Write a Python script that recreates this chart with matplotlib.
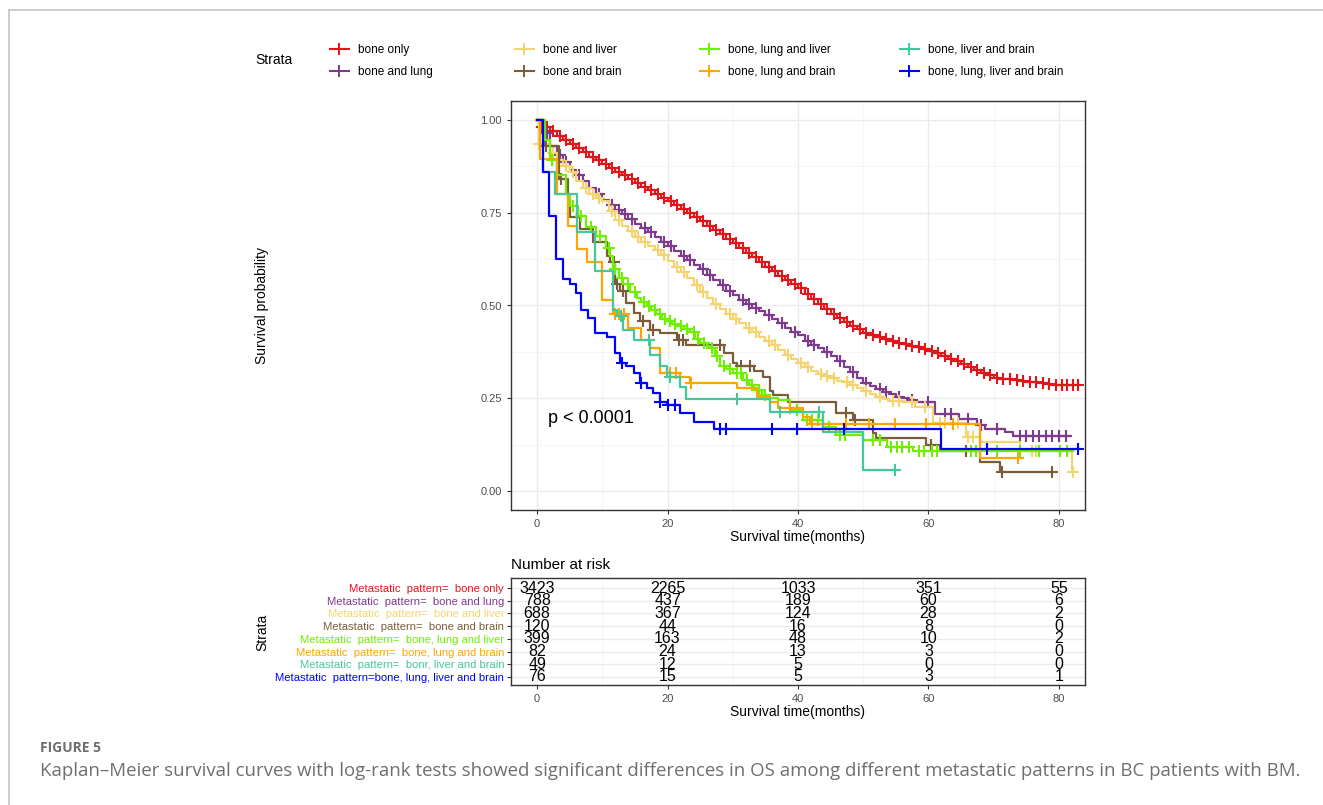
import numpy as np
import matplotlib
matplotlib.use("Agg")
import matplotlib.pyplot as plt
from matplotlib.lines import Line2D

plt.rcParams['font.family'] = ['Liberation Sans', 'DejaVu Sans']

W, H = 1323, 805

# ---- data ----
strata = ["bone only", "bone and lung", "bone and liver", "bone and brain",
          "bone, lung and liver", "bone, lung and brain", "bone, liver and brain",
          "bone, lung, liver and brain"]
row_labels = ["Metastatic  pattern=  bone only",
              "Metastatic  pattern=  bone and lung",
              "Metastatic  pattern=  bone and liver",
              "Metastatic  pattern=  bone and brain",
              "Metastatic  pattern=  bone, lung and liver",
              "Metastatic  pattern=  bone, lung and brain",
              "Metastatic  pattern=  bonr, liver and brain",
              "Metastatic  pattern=bone, lung, liver and brain"]
colors = ["#E0161B", "#7E3A8C", "#F3D470", "#7A5C3A",
          "#70F000", "#FFA500", "#45C79C", "#0000FF"]

risk_times = [0, 20, 40, 60, 80]
risk_counts = [[3423, 2265, 1033, 351, 55],
               [788, 437, 189, 60, 6],
               [688, 367, 124, 28, 2],
               [120, 44, 16, 8, 0],
               [399, 163, 48, 10, 2],
               [82, 24, 13, 3, 0],
               [49, 12, 5, 0, 0],
               [76, 15, 5, 3, 1]]

# step curves: time, survival after step, last follow-up time, censor times
t_red = [0, 0.5, 2, 3, 4, 5, 6, 7, 8, 9, 10, 11, 12, 13, 14, 15, 16, 17, 18, 19, 20,
         21, 22, 23, 24, 25, 26, 27, 28, 29, 30, 31, 32, 33, 34, 35, 36, 37, 38, 39, 40,
         41, 42, 43, 44, 45, 46, 47, 48, 49, 50, 51, 52, 53, 54, 55, 56, 57, 58, 59, 60,
         61, 62, 63, 64, 65, 66, 67, 68, 69, 70, 71, 72, 73, 74, 75, 76, 77, 78, 79, 80]
s_red = [1.0, 0.980, 0.968, 0.956, 0.945, 0.935, 0.923, 0.912, 0.900, 0.890, 0.880,
         0.870, 0.860, 0.850, 0.840, 0.830, 0.820, 0.810, 0.800, 0.790, 0.780,
         0.770, 0.759, 0.748, 0.737, 0.726, 0.715, 0.704, 0.692, 0.680, 0.668,
         0.655, 0.642, 0.630, 0.617, 0.604, 0.592, 0.580, 0.568, 0.557, 0.546,
         0.532, 0.518, 0.504, 0.490, 0.476, 0.466, 0.456, 0.446, 0.436, 0.427,
         0.421, 0.415, 0.410, 0.405, 0.400, 0.396, 0.392, 0.388, 0.384, 0.378,
         0.371, 0.364, 0.357, 0.350, 0.343, 0.335, 0.327, 0.319, 0.312, 0.306,
         0.303, 0.301, 0.299, 0.297, 0.295, 0.293, 0.291, 0.289, 0.287, 0.285]
end_red = 83.0
c_red = [0.8, 1.5, 2.5, 3.5, 4.5, 5.5, 6.5, 7.5, 8.5, 9.5, 10.5, 11.5, 12.5, 13.5,
         14.5, 15.5, 16.5, 17.5, 18.5, 19.5, 20.5, 21.5, 22.5, 23.5, 24.5, 25.5, 26.5,
         27.5, 28.5, 29.5, 30.5, 31.5, 32.5, 33.5, 34.5, 35.5, 36.5, 37.5, 38.5, 39.5,
         40.5, 41.5, 42.5, 43.5, 44.5, 45.5, 46.5, 47.5, 48.5, 49.5, 50.5, 51.5, 52.5,
         53.5, 54.5, 55.5, 56.5, 57.5, 58.5, 59.5, 60.5, 61.5, 62.5, 63.5, 64.5, 65.5,
         66.5, 67.5, 68.5, 69.5, 70.5, 71.5, 72.5, 73.5, 74.5, 75.5, 76.5, 77.5, 78.5,
         79.5, 80.5, 81.3, 82.1, 83.0]

t_purple = [0, 1, 2, 3, 4, 5, 6, 7, 8, 9, 10, 11, 12, 13, 14, 15, 16, 17, 18, 19, 20,
            21, 22, 23, 24, 25, 26, 27, 28, 29, 30, 31, 32, 33, 34, 35, 36, 37, 38, 39,
            40, 41, 42, 43, 44, 45, 46, 47, 48, 49, 50, 51, 52, 53, 54, 55, 56, 57, 58,
            61, 64.7, 67.4, 68.6, 71.7, 73]
s_purple = [1.0, 0.965, 0.93, 0.905, 0.885, 0.865, 0.85, 0.835, 0.815, 0.80, 0.785,
            0.77, 0.758, 0.746, 0.733, 0.72, 0.708, 0.697, 0.685, 0.672, 0.66,
            0.647, 0.634, 0.622, 0.61, 0.598, 0.583, 0.568, 0.555, 0.54, 0.527,
            0.516, 0.505, 0.494, 0.484, 0.474, 0.465, 0.452, 0.44, 0.43, 0.42,
            0.405, 0.395, 0.385, 0.375, 0.365, 0.35, 0.335, 0.32, 0.305, 0.292,
            0.283, 0.275, 0.268, 0.261, 0.255, 0.25, 0.245, 0.24,
            0.208, 0.195, 0.178, 0.168, 0.16, 0.149]
end_purple = 81.6
c_purple = [1.5, 3.5, 4.5, 6.5, 9.5, 11.5, 12.5, 13.5, 14.5, 16.5, 17.5, 19.5, 20.5,
            22.5, 23.5, 25.5, 26.5, 28.5, 29.5, 31.5, 32.5, 33.5, 35.5, 37.5, 39.5,
            41.5, 42.5, 44.5, 46.5, 48.5, 50.5, 52.5, 53.5, 55.5, 57.5, 60, 62.5, 63.5,
            66, 68, 70.5, 74, 75, 76, 77, 78, 79, 80, 81.1]

t_yellow = [0, 0.3, 2, 3, 4, 5, 6, 7, 8, 9, 10, 11, 12, 13, 14, 15, 16, 17, 18, 19, 20,
            21, 22, 23, 24, 25, 26, 27, 28, 29, 30, 31, 32, 33, 34, 35, 36, 37, 38, 39,
            40, 41, 42, 43, 44, 45, 46, 47, 48, 49, 50, 51, 52, 53, 54, 56, 58,
            60.7, 65.8, 67.9, 74, 82]
s_yellow = [1.0, 0.935, 0.91, 0.89, 0.875, 0.86, 0.835, 0.815, 0.80, 0.79, 0.78,
            0.755, 0.73, 0.715, 0.70, 0.685, 0.67, 0.66, 0.65, 0.635, 0.62,
            0.603, 0.59, 0.573, 0.555, 0.537, 0.52, 0.505, 0.49, 0.477, 0.465,
            0.452, 0.44, 0.428, 0.415, 0.405, 0.395, 0.38, 0.368, 0.357, 0.345,
            0.335, 0.325, 0.317, 0.31, 0.305, 0.298, 0.293, 0.285, 0.278, 0.27,
            0.262, 0.255, 0.248, 0.244, 0.241, 0.228,
            0.185, 0.147, 0.132, 0.11, 0.052]
end_yellow = 82.1
c_yellow = [0.3, 2.5, 4.5, 5.5, 7.5, 8.5, 9.5, 11.5, 12.5, 14.5, 15.5, 16.5, 18.5,
            19.5, 21.5, 22.5, 24.5, 25.5, 27.5, 29.5, 30.5, 32.5, 33.5, 35.5, 36.5,
            38.5, 40.5, 41.5, 43.5, 44.5, 45.5, 47.5, 48.5, 50.5, 52.5, 54.5, 55.5,
            57.5, 59.5, 61.8, 62.5, 64.5, 66.1, 66.8, 75.8, 76.5, 82.1]

t_brown = [0, 1.2, 3.3, 4.8, 5.0, 6.6, 8.6, 10.7, 11.2, 12, 12.7, 13.7, 14.8, 15.8,
           17.3, 18.9, 21.4, 22.9, 28.6, 30.1, 30.6, 33.2, 34.7, 35.7, 36.2, 38.5,
           45.9, 48.5, 51.5, 52, 59.7, 61.8, 67.9, 71]
s_brown = [1.0, 0.93, 0.84, 0.786, 0.737, 0.705, 0.67, 0.633, 0.616, 0.557, 0.539,
           0.508, 0.48, 0.457, 0.435, 0.427, 0.408, 0.395, 0.373, 0.346, 0.336,
           0.325, 0.309, 0.27, 0.258, 0.241, 0.21, 0.192, 0.157, 0.143, 0.124,
           0.11, 0.08, 0.052]
end_brown = 78.9
c_brown = [1.4, 3.6, 11.8, 12.3, 13.2, 16.2, 17.8, 21.8, 22.4, 28.0, 31.2, 32.6,
           47.3, 48.8, 60.4, 65.8, 71.2, 78.9]

t_lime = [0, 1.2, 2, 3, 4.5, 5, 6.2, 7.5, 9, 10.5, 11.2, 11.7, 12.5, 13.2, 14.3, 15.3,
          16, 16.8, 17.5, 18.3, 19.2, 19.9, 20.7, 21.4, 22.5, 23.4, 24.2, 25, 26, 26.5,
          27.3, 28, 29, 30.1, 31.6, 32.5, 33.2, 34.5, 35.7, 37, 38.8, 40.8, 43.9, 45.9,
          50, 53.6, 57.7]
s_lime = [1.0, 0.944, 0.89, 0.85, 0.80, 0.768, 0.741, 0.71, 0.687, 0.655, 0.633,
          0.597, 0.575, 0.557, 0.535, 0.521, 0.51, 0.498, 0.487, 0.476, 0.465, 0.457,
          0.45, 0.444, 0.437, 0.43, 0.41, 0.399, 0.39, 0.386, 0.363, 0.336, 0.328,
          0.319, 0.30, 0.285, 0.273, 0.26, 0.251, 0.245, 0.219, 0.192, 0.174, 0.151,
          0.138, 0.12, 0.109]
end_lime = 82.2
c_lime = [2.3, 5.5, 6.8, 8.2, 9.7, 11.0, 12.0, 13.0, 14.0, 15.0, 16.4, 17.2, 18.0,
          18.8, 19.6, 20.4, 21.1, 22.0, 23.0, 24.0, 24.6, 25.6, 26.8, 27.6, 28.6, 29.5,
          30.6, 31.2, 32.2, 33.0, 34.0, 35.0, 39.8, 41.4, 42.2, 43.0, 44.8, 46.4, 47.2,
          51.5, 52.5, 54.2, 55.2, 56.0, 57.0, 58.5, 59.3, 60.5, 61.3, 66.5, 67.3, 70.5,
          74.0, 77.0, 80.2, 81.2]

t_orange = [0, 0.5, 3.0, 4.8, 6.1, 7.6, 9.9, 11.7, 14, 16, 17.3, 18.9, 21.9, 23.4,
            30.6, 33.7, 35.7, 37, 40.8, 41.8, 67.9]
s_orange = [1.0, 0.895, 0.80, 0.714, 0.651, 0.616, 0.516, 0.476, 0.44, 0.408, 0.386,
            0.319, 0.309, 0.292, 0.278, 0.255, 0.241, 0.224, 0.201, 0.18, 0.089]
end_orange = 74.3
c_orange = [11.9, 12.6, 13.3, 20.3, 21.3, 23.6, 38.8, 42.2, 47.4, 50.9, 54.9, 59.7,
            63.8, 73.8]

t_aqua = [0, 0.9, 2.8, 6.1, 8.9, 11.7, 12.2, 13.2, 14.8, 17.3, 18.9, 19.9, 21.9,
          22.9, 35.7, 43.9, 50]
s_aqua = [1.0, 0.86, 0.80, 0.697, 0.593, 0.489, 0.471, 0.435, 0.408, 0.368, 0.336,
          0.309, 0.282, 0.249, 0.214, 0.16, 0.057]
end_aqua = 54.9
c_aqua = [12.9, 17.1, 20.3, 30.6, 37.3, 43.2, 54.9]

t_blue = [0, 0.9, 1.9, 2.9, 3.9, 5.0, 6.0, 6.8, 7.8, 8.9, 10.7, 12.0, 12.7, 13.7,
          14.8, 15.8, 16.8, 17.8, 18.9, 19.9, 21.9, 24, 27.1, 61.9]
s_blue = [1.0, 0.86, 0.741, 0.624, 0.57, 0.557, 0.534, 0.489, 0.467, 0.427, 0.414,
          0.373, 0.346, 0.336, 0.319, 0.292, 0.278, 0.265, 0.241, 0.232, 0.21, 0.187,
          0.167, 0.113]
end_blue = 83.2
c_blue = [13.0, 16.0, 18.9, 20.1, 21.2, 28.1, 28.9, 36.0, 39.8, 47.0, 68.9, 83.0]

curves = [(t_red, s_red, end_red, c_red),
          (t_purple, s_purple, end_purple, c_purple),
          (t_yellow, s_yellow, end_yellow, c_yellow),
          (t_brown, s_brown, end_brown, c_brown),
          (t_lime, s_lime, end_lime, c_lime),
          (t_orange, s_orange, end_orange, c_orange),
          (t_aqua, s_aqua, end_aqua, c_aqua),
          (t_blue, s_blue, end_blue, c_blue)]


def px_box(left, top, right, bottom):
    return [left / W, 1 - bottom / H, (right - left) / W, (bottom - top) / H]


fig = plt.figure(figsize=(W / 100, H / 100), dpi=100)

# page frame lines
fig.add_artist(Line2D([9 / W, 9 / W], [0, 1 - 10 / H], color="#C4C4C4", lw=1.2))
fig.add_artist(Line2D([9 / W, 1], [1 - 10 / H, 1 - 10 / H], color="#C4C4C4", lw=1.2))

grid_major = "#EBEBEB"
grid_minor = "#F4F4F4"
border = "#333333"
tick_col = "#4D4D4D"

# ---- survival curves ----
ax = fig.add_axes(px_box(511, 101, 1085, 510))
for (t, s, end, cens), col in zip(curves, colors):
    t = np.asarray(t, float)
    s = np.asarray(s, float)
    ax.step(np.append(t, end), np.append(s, s[-1]), where="post", color=col,
            lw=1.6, zorder=3)
    idx = np.searchsorted(t, cens, side="right") - 1
    ax.plot(cens, s[idx], ls="none", marker="+", ms=9, mew=1.5, color=col, zorder=3)

ax.set_xlim(-4, 84)
ax.set_ylim(-0.05, 1.05)
ax.set_xticks([0, 20, 40, 60, 80])
ax.set_xticks([10, 30, 50, 70], minor=True)
ax.set_yticks([0, 0.25, 0.5, 0.75, 1.0])
ax.set_yticklabels(["0.00", "0.25", "0.50", "0.75", "1.00"])
ax.set_yticks([0.125, 0.375, 0.625, 0.875], minor=True)
ax.grid(which="major", color=grid_major, lw=1.0, zorder=0)
ax.grid(which="minor", color=grid_minor, lw=0.6, zorder=0)
ax.tick_params(which="major", colors=border, labelcolor=tick_col, labelsize=8, length=3)
ax.tick_params(which="minor", length=0)
for sp in ax.spines.values():
    sp.set_color(border)
    sp.set_linewidth(1.0)
ax.set_axisbelow(True)
ax.set_xlabel("Survival time(months)", fontsize=10, labelpad=1)
ax.text(1.7, 0.197, "p < 0.0001", fontsize=13, va="center", ha="left")
fig.text(262 / W, 1 - 305 / H, "Survival probability", rotation=90, fontsize=10,
         ha="center", va="center")

# ---- legend (one block per column) ----
fig.text(255 / W, 1 - 60 / H, "Strata", fontsize=10, ha="left", va="center")
col_x = [330, 515, 700, 900]
for k in range(4):
    handles = [Line2D([], [], color=colors[2 * k + j], lw=1.5, marker="+", ms=9, mew=1.4)
               for j in range(2)]
    fig.legend(handles, strata[2 * k:2 * k + 2], loc="upper left",
               bbox_to_anchor=(col_x[k] / W, 1 - 44 / H), frameon=False, fontsize=8.5,
               handlelength=1.6, handletextpad=0.75, labelspacing=0.88,
               borderpad=0.0, borderaxespad=0.0)

# ---- number at risk table ----
ax2 = fig.add_axes(px_box(511, 578, 1085, 685))
for i, row in enumerate(risk_counts):
    for x, n in zip(risk_times, row):
        ax2.text(x, i + 1, str(n), ha="center", va="center", fontsize=11.5, zorder=3)
ax2.set_xlim(-4, 84)
ax2.set_ylim(8.63, 0.21)
ax2.set_xticks([0, 20, 40, 60, 80])
ax2.set_xticks([10, 30, 50, 70], minor=True)
ax2.set_yticks(range(1, 9))
ax2.set_yticklabels(row_labels)
ax2.grid(which="major", color=grid_major, lw=1.0, zorder=0)
ax2.grid(which="minor", axis="x", color=grid_minor, lw=0.6, zorder=0)
ax2.tick_params(axis="y", labelsize=8.1, length=3, colors=border, pad=2)
for lab, col in zip(ax2.get_yticklabels(), colors):
    lab.set_color(col)
ax2.tick_params(axis="x", which="major", colors=border, labelcolor=tick_col,
                labelsize=8, length=3)
ax2.tick_params(which="minor", length=0)
for sp in ax2.spines.values():
    sp.set_color(border)
    sp.set_linewidth(1.0)
ax2.set_axisbelow(True)
ax2.set_xlabel("Survival time(months)", fontsize=10, labelpad=1)
fig.text(511 / W, 1 - 565 / H, "Number at risk", fontsize=11, ha="left", va="center")
fig.text(262 / W, 1 - 632 / H, "Strata", rotation=90, fontsize=10,
         ha="center", va="center")

# ---- caption ----
fig.text(40 / W, 1 - 748 / H, "FIGURE 5", fontsize=10, color="#6E6E6E",
         family=["Open Sans", "DejaVu Sans"], weight="bold", ha="left", va="center")
fig.text(40 / W, 1 - 771 / H,
         "Kaplan\u2013Meier survival curves with log-rank tests showed significant "
         "differences in OS among different metastatic patterns in BC patients with BM.",
         fontsize=13.4, color="#6E6E6E", family=["Open Sans", "DejaVu Sans"],
         ha="left", va="center")

fig.savefig("out.png", dpi=100)
